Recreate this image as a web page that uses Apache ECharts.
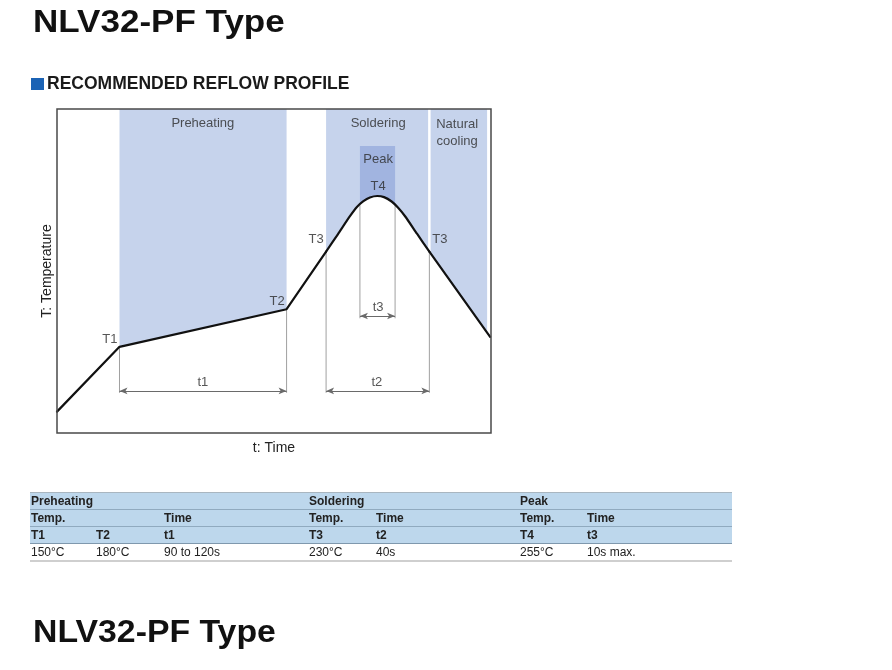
<!DOCTYPE html>
<html>
<head>
<meta charset="utf-8">
<script src="https://cdn.jsdelivr.net/npm/echarts@6/dist/echarts.min.js"></script>
<style>
html,body{margin:0;padding:0;background:#fff;}
#c{width:892px;height:670px;}
</style>
</head>
<body>
<div id="c"></div>
<script>
// ---- data (abstract time / temperature units, 0..100) ----
const curveRise = [[0, 6.6], [14.4, 26.6], [52.9, 38.2], [62.0, 56.0]];
const curvePeak = [[62.0, 56.0], [64.75, 61.4], [67.5, 66.9], [69.1, 69.75], [70.6, 71.55], [72.1, 72.7], [73.8, 73.15],
  [75.35, 72.8], [77.1, 71.45], [78.55, 69.6], [80.2, 66.9], [82.95, 61.5], [85.8, 56.0]];
const curveFall = [[85.8, 56.0], [99.8, 29.7]];
const preheatZone = [[14.4, 26.6], [52.9, 38.2]];
const coolingZone = [[85.8, 56.0], [99.1, 31.0]];
const peakZone = [[69.8, 70.6], [70.6, 71.55], [72.1, 72.7], [73.8, 73.15], [75.35, 72.8], [77.1, 71.45], [77.9, 70.5]];
const peakTop = 88.6;
// extension lines: [x, yFrom, yTo]
const extLines = [[14.4, 26.6, 12.4], [52.9, 38.2, 12.4], [62.0, 56.0, 12.4], [85.8, 56.0, 12.4], [69.8, 70.6, 35.4], [77.9, 70.5, 35.4]];
// dimension arrows: [name, xFrom, xTo, y]
const dims = [['t1', 14.4, 52.9, 13.0], ['t2', 62.0, 85.8, 13.0], ['t3', 69.8, 77.9, 36.1]];
// text labels: [text, x, y]
const labels = [
  ['Preheating', 33.6, 95.4], ['Soldering', 74.0, 95.4], ['Natural\ncooling', 92.2, 92.7],
  ['Peak', 74.0, 84.3], ['T4', 74.0, 76.2], ['T1', 12.2, 29.0], ['T2', 50.7, 40.7],
  ['T3', 59.7, 59.6], ['T3', 88.2, 59.9], ['t1', 33.6, 15.7], ['t2', 73.7, 15.7], ['t3', 74.0, 38.9]
];
// table
const tableRow1 = ['Preheating', '', '', 'Soldering', '', 'Peak', ''];
const tableRow2 = ['Temp.', '', 'Time', 'Temp.', 'Time', 'Temp.', 'Time'];
const tableRow3 = ['T1', 'T2', 't1', 'T3', 't2', 'T4', 't3'];
const tableRow4 = ['150°C', '180°C', '90 to 120s', '230°C', '40s', '255°C', '10s max.'];
const titleText = 'NLV32-PF Type';
const sectionText = 'RECOMMENDED REFLOW PROFILE';

// ---- styles ----
const FONT = '"Liberation Sans", Arial, Helvetica, sans-serif';
const ZONE = '#c6d3ec';
const PEAK = '#a1b4e0';
const TBL = '#bdd7ec';
const TBL_SEP = '#90aabf';
const SMOOTH = 0.2;

const chart = echarts.init(document.getElementById('c'));

const series = [];
function zone(data, origin, color, smooth) {
  series.push({
    type: 'line', data: data, symbol: 'none', smooth: smooth || false, z: 1,
    lineStyle: { width: 0, opacity: 0 }, silent: true,
    areaStyle: { color: color, opacity: 1, origin: origin }
  });
}
zone(preheatZone, 'end', ZONE);
zone(curvePeak, 'end', ZONE, SMOOTH);
zone(coolingZone, 'end', ZONE);
zone(peakZone, peakTop, PEAK, SMOOTH);

// white divider between soldering and cooling zones
series.push({
  type: 'line', symbol: 'none', z: 2, silent: true,
  data: [[curveFall[0][0], 100], [curveFall[0][0], curveFall[0][1]]],
  lineStyle: { color: '#ffffff', width: 2.5 }
});

extLines.forEach(function (e) {
  series.push({
    type: 'line', symbol: 'none', z: 3, silent: true,
    data: [[e[0], e[1]], [e[0], e[2]]],
    lineStyle: { color: '#a0a0a0', width: 1 }
  });
});

series.push({
  type: 'line', data: [], z: 4, silent: true,
  markLine: {
    silent: true, symbol: ['arrow', 'arrow'], symbolSize: [5, 8],
    label: { show: false },
    lineStyle: { color: '#6a6a6a', width: 1, type: 'solid' },
    data: dims.map(function (d) { return [{ coord: [d[1], d[3]] }, { coord: [d[2], d[3]] }]; })
  }
});

[[curveRise, false], [curvePeak, SMOOTH], [curveFall, false]].forEach(function (c) {
  series.push({
    type: 'line', data: c[0], smooth: c[1], symbol: 'none', z: 5, silent: true,
    lineStyle: { color: '#111', width: 2.2, cap: 'round', join: 'round' }
  });
});

series.push({
  type: 'scatter', symbolSize: 1, z: 6, silent: true,
  itemStyle: { color: 'rgba(0,0,0,0)' },
  data: labels.map(function (l) { return { value: [l[1], l[2]], name: l[0] }; }),
  label: {
    show: true, position: 'inside', formatter: '{b}',
    fontFamily: FONT, fontSize: 13, color: '#2a2a2a', lineHeight: 17
  }
});

// ---- graphic: titles and table ----
const graphic = [];
graphic.push({ type: 'text', x: 33, y: 23, scaleX: 1.13,
  style: { text: titleText, font: 'bold 31px ' + FONT, fill: '#111', verticalAlign: 'middle' } });
graphic.push({ type: 'text', x: 33, y: 633, scaleX: 1.09,
  style: { text: titleText, font: 'bold 31px ' + FONT, fill: '#111', verticalAlign: 'middle' } });
graphic.push({ type: 'rect', shape: { x: 31, y: 78, width: 13, height: 12 }, style: { fill: '#1b63b5' } });
graphic.push({ type: 'text', x: 47, y: 84,
  style: { text: sectionText, font: 'bold 17.5px ' + FONT, fill: '#1a1a1a', verticalAlign: 'middle' } });

const tX0 = 30, tX1 = 732, rowTop = 492.5, rowH = 17;
const colX = [31, 96, 164, 309, 376, 520, 587];
graphic.push({ type: 'rect', shape: { x: tX0, y: rowTop, width: tX1 - tX0, height: rowH * 3 }, style: { fill: TBL } });
graphic.push({ type: 'line', shape: { x1: tX0, y1: rowTop, x2: tX1, y2: rowTop }, style: { stroke: '#a9b6c0', lineWidth: 1.2 } });
for (let i = 1; i <= 3; i++) {
  graphic.push({ type: 'line', shape: { x1: tX0, y1: rowTop + rowH * i, x2: tX1, y2: rowTop + rowH * i },
    style: { stroke: i === 3 ? '#7f98ad' : TBL_SEP, lineWidth: 1.2 } });
}
graphic.push({ type: 'line', shape: { x1: tX0, y1: rowTop + rowH * 4 + 0.5, x2: tX1, y2: rowTop + rowH * 4 + 0.5 }, style: { stroke: '#cfcfcf', lineWidth: 2 } });
[tableRow1, tableRow2, tableRow3, tableRow4].forEach(function (row, r) {
  row.forEach(function (t, c) {
    if (!t) return;
    graphic.push({ type: 'text', x: colX[c], y: rowTop + rowH * r + rowH / 2 + 0.5,
      style: { text: t, font: (r < 3 ? 'bold ' : '') + '12px ' + FONT, fill: '#222', verticalAlign: 'middle' } });
  });
});

chart.setOption({
  animation: false,
  grid: { left: 57, top: 109, width: 434, height: 324, show: true, z: 10,
    borderColor: '#4a4a4a', borderWidth: 1.5, backgroundColor: 'rgba(0,0,0,0)' },
  xAxis: {
    type: 'value', min: 0, max: 100,
    axisLine: { show: false }, axisTick: { show: false }, axisLabel: { show: false }, splitLine: { show: false },
    name: 't: Time', nameLocation: 'middle', nameGap: 8,
    nameTextStyle: { fontFamily: FONT, fontSize: 14, color: '#222', verticalAlign: 'top' }
  },
  yAxis: {
    type: 'value', min: 0, max: 100,
    axisLine: { show: false }, axisTick: { show: false }, axisLabel: { show: false }, splitLine: { show: false },
    name: 'T: Temperature', nameLocation: 'middle', nameGap: 3,
    nameTextStyle: { fontFamily: FONT, fontSize: 14, color: '#222' }
  },
  series: series,
  graphic: graphic
});
</script>
</body>
</html>
